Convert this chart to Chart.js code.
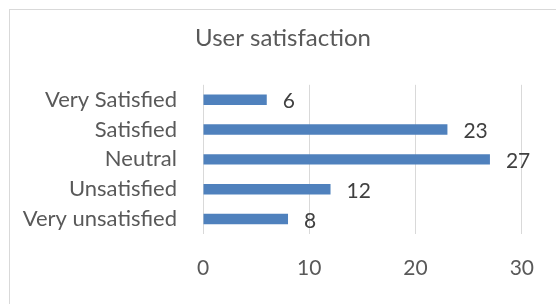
<!DOCTYPE html>
<html>
<head>
<meta charset="utf-8">
<script src="https://cdn.jsdelivr.net/npm/chart.js@4.4.1/dist/chart.umd.min.js"></script>
<style>
  html, body { margin: 0; padding: 0; background: #fff; overflow: hidden; }
  #frame {
    position: absolute; left: 9px; top: 9px;
    width: 546px; height: 294px;
    border: 1px solid #d9d9d9;
  }
</style>
</head>
<body>
<div id="frame"><canvas id="satisfactionChart"></canvas></div>
<script>
  const categories = ['Very Satisfied', 'Satisfied', 'Neutral', 'Unsatisfied', 'Very unsatisfied'];
  const responses = [6, 23, 27, 12, 8];
  const tickValues = [0, 10, 20, 30];

  const fontFamily = 'Lato, "Open Sans", sans-serif';

  // value labels to the right of each bar
  const valueLabels = {
    id: 'valueLabels',
    afterDatasetsDraw(chart) {
      const ctx = chart.ctx;
      const meta = chart.getDatasetMeta(0);
      ctx.save();
      ctx.font = '21px ' + fontFamily;
      ctx.fillStyle = '#404040';
      ctx.textAlign = 'left';
      ctx.textBaseline = 'middle';
      meta.data.forEach(function(bar, i) {
        ctx.fillText(String(responses[i]), bar.x + 16, bar.y + 2);
      });
      ctx.restore();
    }
  };

  const ctx = document.getElementById('satisfactionChart').getContext('2d');
  new Chart(ctx, {
    type: 'bar',
    data: {
      labels: categories,
      datasets: [{
        data: responses,
        backgroundColor: '#4f81bd',
        barPercentage: 0.35,
        categoryPercentage: 1
      }]
    },
    options: {
      indexAxis: 'y',
      responsive: true,
      maintainAspectRatio: false,
      animation: false,
      layout: { padding: 0 },
      scales: {
        x: {
          min: 0,
          max: 30,
          afterBuildTicks: function(scale) {
            scale.ticks = tickValues.map(function(v) { return { value: v }; });
          },
          afterFit: function(scale) { scale.height = 70; },
          grid: { color: '#d9d9d9', lineWidth: 1, drawTicks: false },
          border: { display: false },
          ticks: {
            padding: 22,
            color: '#595959',
            font: { family: fontFamily, size: 21 }
          }
        },
        y: {
          afterFit: function(scale) { scale.width = 193; },
          grid: { display: false, drawTicks: false },
          border: { display: false },
          ticks: {
            padding: 26,
            color: '#595959',
            font: { family: fontFamily, size: 22 }
          }
        },
        // empty space on the right of the plot, keeps the title centred on the frame
        spacer: {
          axis: 'y',
          position: 'right',
          afterFit: function(scale) { scale.width = 34; },
          grid: { display: false, drawTicks: false },
          border: { display: false },
          ticks: { display: false }
        }
      },
      plugins: {
        legend: { display: false },
        tooltip: { enabled: false },
        title: {
          display: true,
          text: 'User satisfaction',
          color: '#595959',
          font: { family: fontFamily, size: 24, weight: 'normal' },
          padding: { top: 14, bottom: 32 }
        }
      }
    },
    plugins: [valueLabels]
  });
</script>
</body>
</html>
